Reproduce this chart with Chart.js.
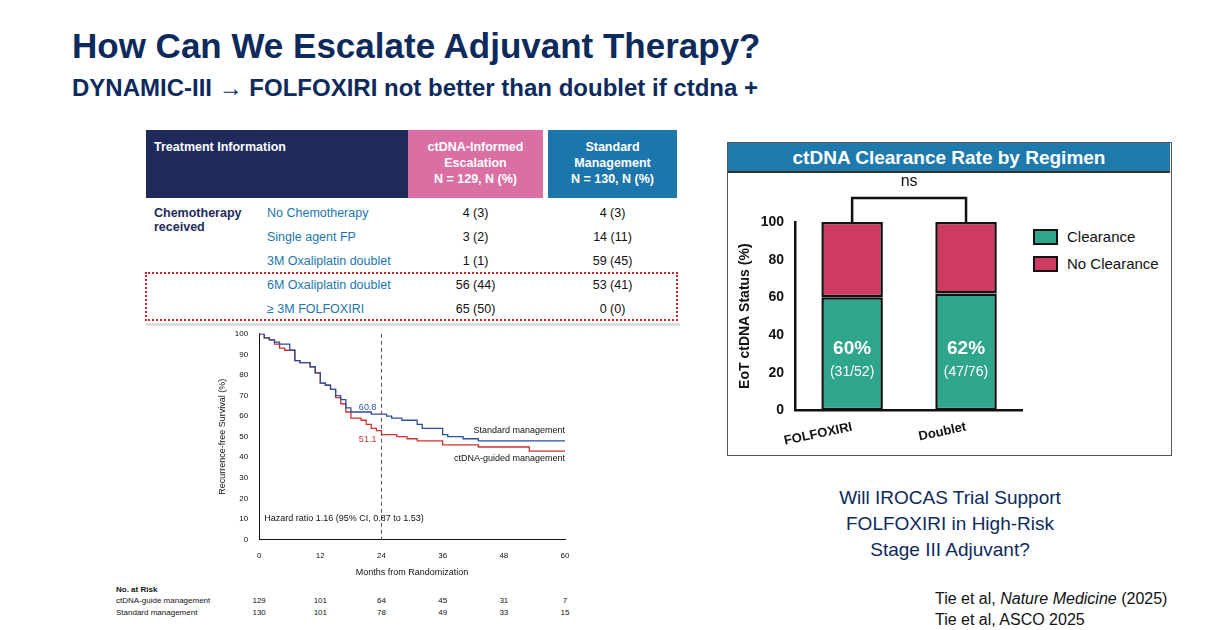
<!DOCTYPE html>
<html><head><meta charset="utf-8">
<script src="https://cdn.jsdelivr.net/npm/chart.js@4"></script>
<style>
body{margin:0;width:1232px;height:630px;position:relative;background:#fff;font-family:Arial,"Liberation Sans",sans-serif;overflow:hidden}
.abs{position:absolute}
h1{position:absolute;left:72px;top:26px;margin:0;font-size:35px;color:#0d2a5c;font-weight:bold}
h2{position:absolute;left:72px;top:74px;margin:0;font-size:24px;color:#0d2a5c;font-weight:bold}
.hdr{position:absolute;top:130px;height:68px;color:#fff;font-weight:bold;font-size:12.5px;line-height:16px;text-align:center;box-sizing:border-box;padding-top:9px}
.cell{position:absolute;font-size:12.5px;color:#111;line-height:14px}
.lab{color:#1c76ab}
.risk{position:absolute;font-size:8px;color:#111}
</style></head><body>
<h1>How Can We Escalate Adjuvant Therapy?</h1>
<h2>DYNAMIC-III → FOLFOXIRI not better than doublet if ctdna +</h2>

<div class="hdr" style="left:146px;width:262px;background:#1e2b5a;text-align:left;padding-left:8px">Treatment Information</div>
<div class="hdr" style="left:408px;width:135px;background:#d96fa2">ctDNA-Informed<br>Escalation<br>N = 129, N (%)</div>
<div class="hdr" style="left:548px;width:129px;background:#1c76ab">Standard<br>Management<br>N = 130, N (%)</div>
<div class="cell" style="left:154px;top:206px;color:#1e2b5a;font-weight:bold">Chemotherapy<br>received</div>
<div id="tbl"></div>
<div class="abs" style="left:145px;top:272px;width:533px;height:49px;border:2px dotted #c0282a;box-sizing:border-box"></div>
<div class="abs" style="left:146px;top:323px;width:534px;height:3px;background:#ddd"></div>

<div class="abs" style="left:213px;top:326px;width:370px;height:256px"><canvas id="km"></canvas></div>
<div class="risk" style="left:116px;top:585px;font-weight:bold">No. at Risk</div>
<div class="risk" style="left:116px;top:596px">ctDNA-guide management</div>
<div class="risk" style="left:116px;top:608px">Standard management</div>
<div id="riskRows"></div>

<div class="abs" style="left:727px;top:142px;width:443px;height:312px;border:1px solid #555"></div>
<div class="abs" style="left:728px;top:143px;width:442px;height:28px;background:#1e79ad;border-bottom:2px solid #333;color:#fff;font-weight:bold;font-size:19px;text-align:center;line-height:30px">ctDNA Clearance Rate by Regimen</div>
<div class="abs" style="left:733px;top:172px;width:290px;height:280px"><canvas id="bars"></canvas></div>
<div class="abs" style="left:1033px;top:229px;width:21px;height:12px;background:#2fa58b;border:2px solid #111"></div>
<div class="abs" style="left:1067px;top:228px;font-size:15px;color:#111">Clearance</div>
<div class="abs" style="left:1033px;top:256px;width:21px;height:12px;background:#cf3a63;border:2px solid #111"></div>
<div class="abs" style="left:1067px;top:255px;font-size:15px;color:#111">No Clearance</div>

<div class="abs" style="left:790px;top:485px;width:320px;text-align:center;font-size:19px;line-height:26px;color:#0d2a5c">Will IROCAS Trial Support<br>FOLFOXIRI in High-Risk<br>Stage III Adjuvant?</div>
<div class="abs" style="left:935px;top:588px;font-size:16px;line-height:21px;color:#111">Tie et al, <i>Nature Medicine</i> (2025)<br>Tie et al, ASCO 2025</div>

<script>
// Treatment table
const chemoTypes = ['No Chemotherapy','Single agent FP','3M Oxaliplatin doublet','6M Oxaliplatin doublet','≥ 3M FOLFOXIRI'];
const escalation = ['4 (3)','3 (2)','1 (1)','56 (44)','65 (50)'];
const standard   = ['4 (3)','14 (11)','59 (45)','53 (41)','0 (0)'];

// KM curves (months, % RFS)
const stdMonths = [0,1,2,3,4,6,7,8,10,11,12,13,14,15,16,17,18,21,22,25,26,28,31,32,35,36,37,40,43,60];
const stdRfs    = [100,98,97,96,95,92,87,86,84,81,76,75,73,70,68,64,62,62,61,60,59,58,56,54,54,51,50,49,48,48];
const ctMonths  = [0,1,2,3,4,5,7,8,10,11,12,13,14,15,16,17,18,20,21,22,23,24,27,29,31,36,43,53,60];
const ctRfs     = [100,98,97,95,93,92,87,86,84,81,76,75,73,69,66,62,59,58,56,54,53,51,50,49,48,46,45,43,43];
const riskMonths = [0,12,24,36,48,60];
const riskCt  = [129,101,64,45,31,7];
const riskStd = [130,101,78,49,33,15];

// Bar chart
const regimens = ['FOLFOXIRI','Doublet'];
const clearance = [60,62];
const noClearance = [40,38];
const counts = ['(31/52)','(47/76)'];

const tbl = document.getElementById('tbl');
chemoTypes.forEach((c, i) => {
  const top = 206 + i * 24;
  tbl.insertAdjacentHTML('beforeend',
    `<div class="cell lab" style="left:267px;top:${top}px">${c}</div>
     <div class="cell" style="left:408px;width:135px;text-align:center;top:${top}px">${escalation[i]}</div>
     <div class="cell" style="left:548px;width:129px;text-align:center;top:${top}px">${standard[i]}</div>`);
});

const pts = (xs, ys) => xs.map((x, i) => ({x, y: ys[i]}));

const kmNotes = {
  id: 'kmNotes',
  afterDatasetsDraw(chart) {
    const {ctx, scales: {x, y}} = chart;
    ctx.save();
    ctx.setLineDash([4,3]); ctx.strokeStyle = '#555'; ctx.lineWidth = 1;
    ctx.beginPath(); ctx.moveTo(x.getPixelForValue(24), y.getPixelForValue(100)); ctx.lineTo(x.getPixelForValue(24), y.getPixelForValue(0)); ctx.stroke();
    ctx.setLineDash([]);
    ctx.font = '9px Arial';
    ctx.fillStyle = '#2a5ca8'; ctx.textAlign = 'right'; ctx.fillText('60.8', x.getPixelForValue(23), y.getPixelForValue(63));
    ctx.fillStyle = '#c8383a'; ctx.fillText('51.1', x.getPixelForValue(23), y.getPixelForValue(47.5));
    ctx.fillStyle = '#111';
    ctx.fillText('Standard management', x.getPixelForValue(60), y.getPixelForValue(52));
    ctx.fillText('ctDNA-guided management', x.getPixelForValue(60), y.getPixelForValue(38));
    ctx.textAlign = 'left';
    ctx.fillText('Hazard ratio 1.16 (95% CI, 0.87 to 1.53)', x.getPixelForValue(1), y.getPixelForValue(9));
    ctx.restore();
  }
};

const km = new Chart(document.getElementById('km'), {
  type: 'line',
  data: { datasets: [
    { data: pts(stdMonths, stdRfs), borderColor: '#2a4f9e', borderWidth: 1.3, stepped: 'before', pointRadius: 0 },
    { data: pts(ctMonths, ctRfs), borderColor: '#d0312d', borderWidth: 1.3, stepped: 'before', pointRadius: 0 }
  ]},
  options: {
    animation: false, responsive: true, maintainAspectRatio: false,
    layout: { padding: { right: 18 } },
    plugins: { legend: { display: false }, tooltip: { enabled: false } },
    scales: {
      x: { type: 'linear', min: 0, max: 60,
        ticks: { stepSize: 12, color: '#111', font: { size: 8 } },
        grid: { display: false },
        border: { color: '#111' },
        title: { display: true, text: 'Months from Randomization', color: '#111', font: { size: 9 } } },
      y: { min: 0, max: 100,
        ticks: { stepSize: 10, color: '#111', font: { size: 8 } },
        grid: { display: false },
        border: { color: '#111' },
        title: { display: true, text: 'Recurrence-free Survival (%)', color: '#111', font: { size: 9 } } }
    }
  },
  plugins: [kmNotes]
});

// number-at-risk row aligned to the KM x scale
const rr = document.getElementById('riskRows');
riskMonths.forEach((m, i) => {
  const px = 213 + km.scales.x.getPixelForValue(m);
  [[riskCt[i], 596], [riskStd[i], 608]].forEach(([v, top]) => {
    const d = document.createElement('div');
    d.className = 'risk';
    d.style.left = (px - 15) + 'px'; d.style.width = '30px'; d.style.textAlign = 'center'; d.style.top = top + 'px';
    d.textContent = v;
    rr.appendChild(d);
  });
});

const barNotes = {
  id: 'barNotes',
  afterDatasetsDraw(chart) {
    const {ctx, scales: {x, y}} = chart;
    ctx.save();
    const x0 = x.getPixelForValue(0), x1 = x.getPixelForValue(1), top = y.getPixelForValue(100), br = top - 24;
    ctx.strokeStyle = '#111'; ctx.lineWidth = 2.5;
    ctx.beginPath(); ctx.moveTo(x0, top); ctx.lineTo(x0, br); ctx.lineTo(x1, br); ctx.lineTo(x1, top); ctx.stroke();
    ctx.fillStyle = '#111'; ctx.textAlign = 'center'; ctx.font = '16px Arial';
    ctx.fillText('ns', (x0 + x1) / 2, br - 12);
    regimens.forEach((r, i) => {
      const px = x.getPixelForValue(i);
      ctx.fillStyle = '#fff';
      ctx.font = 'bold 19px Arial'; ctx.fillText(clearance[i] + '%', px, y.getPixelForValue(30));
      ctx.font = '14px Arial'; ctx.fillText(counts[i], px, y.getPixelForValue(18));
    });
    ctx.restore();
  }
};

new Chart(document.getElementById('bars'), {
  type: 'bar',
  data: { labels: regimens, datasets: [
    { data: clearance, backgroundColor: '#2fa58b', borderColor: '#111', borderWidth: 2.5, borderSkipped: false },
    { data: noClearance, backgroundColor: '#cf3a63', borderColor: '#111', borderWidth: 2.5, borderSkipped: false }
  ]},
  options: {
    animation: false, responsive: true, maintainAspectRatio: false,
    layout: { padding: { top: 50, right: 0 } },
    plugins: { legend: { display: false }, tooltip: { enabled: false } },
    datasets: { bar: { categoryPercentage: 0.54, barPercentage: 1 } },
    scales: {
      x: { stacked: true,
        ticks: { color: '#111', font: { size: 13, weight: 'bold' }, maxRotation: 12, minRotation: 12 },
        grid: { display: false, drawTicks: true, tickLength: 6, color: '#111' },
        border: { color: '#111', width: 2.5 } },
      y: { stacked: true, min: 0, max: 100,
        ticks: { stepSize: 20, color: '#111', font: { size: 14, weight: 'bold' } },
        grid: { display: false },
        border: { color: '#111', width: 2.5 },
        title: { display: true, text: 'EoT ctDNA Status (%)', color: '#111', font: { size: 14, weight: 'bold' } } }
    }
  },
  plugins: [barNotes]
});
</script>
</body></html>
